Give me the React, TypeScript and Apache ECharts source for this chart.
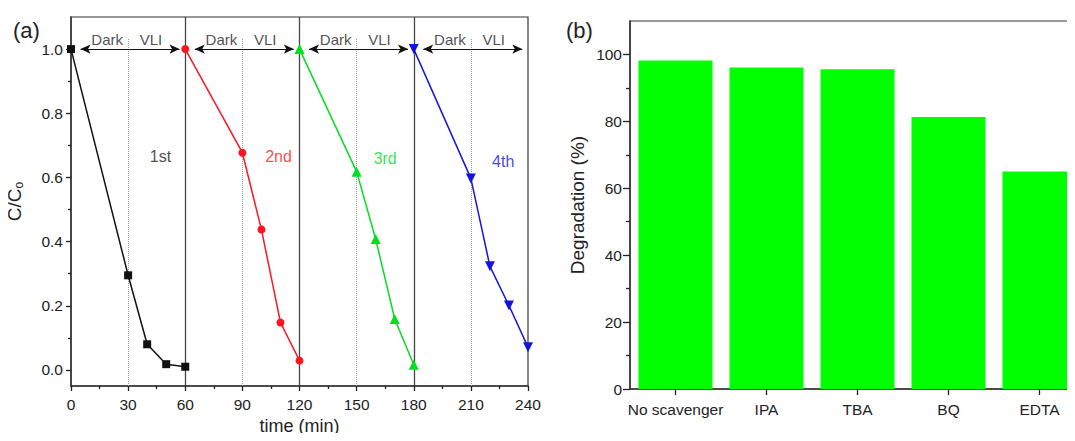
import React, { useEffect, useRef } from "react";
import * as echarts from "echarts";

// ---------- Panel (a) data ----------
const run1X = [0, 30, 40, 50, 60];
const run1Y = [1.0, 0.295, 0.08, 0.018, 0.01];
const run2X = [60, 90, 100, 110, 120];
const run2Y = [1.0, 0.677, 0.438, 0.148, 0.029];
const run3X = [120, 150, 160, 170, 180];
const run3Y = [1.0, 0.618, 0.408, 0.159, 0.016];
const run4X = [180, 210, 220, 230, 240];
const run4Y = [1.0, 0.597, 0.323, 0.201, 0.071];
const runNames = ["1st", "2nd", "3rd", "4th"];
const runLabelX = [47, 109, 165, 227];
const runLabelY = [0.666, 0.666, 0.66, 0.65];
const cycleStarts = [0, 60, 120, 180];
const cycleBoundaries = [60, 120, 180];
const lightOnTimes = [30, 90, 150, 210];
const phaseNames = ["Dark", "VLI"];
const ratioTicks = [0, 0.2, 0.4, 0.6, 0.8, 1.0];
const ratioMinorTicks = [0.1, 0.3, 0.5, 0.7, 0.9];

// ---------- Panel (b) data ----------
const scavengers = ["No scavenger", "IPA", "TBA", "BQ", "EDTA"];
const degradation = [98.2, 96.1, 95.6, 81.3, 65.0];
const degTicks = [0, 20, 40, 60, 80, 100];
const degMinorTicks = [10, 30, 50, 70, 90];

const FONT = "'Liberation Sans', Arial, sans-serif";
const AXIS = "#333333";
const TXT = "#222222";
const colors = ["#111111", "#ff1420", "#00dd22", "#1414dd"];
const symbols = ["rect", "circle", "triangle", "triangle"];
const symbolRot = [0, 0, 0, 180];
const tickStyle = { color: "#222", width: 1.3 };

function tickAxis(gridIndex: number, min: number, max: number, values: number[], length: number) {
  return {
    type: "value",
    gridIndex,
    min,
    max,
    position: "left",
    axisLine: { show: false, onZero: false },
    axisTick: { show: true, inside: false, length, lineStyle: tickStyle, customValues: values },
    axisLabel: { show: false },
    splitLine: { show: false },
  };
}

export default function App() {
  const ref = useRef<HTMLDivElement>(null);

  useEffect(() => {
    if (!ref.current) return;
    const chart = echarts.init(ref.current, null, { renderer: "svg" });

    const runsX = [run1X, run2X, run3X, run4X];
    const runsY = [run1Y, run2Y, run3Y, run4Y];

    const lineSeries = runsX.map((xs, i) => ({
      type: "line",
      xAxisIndex: 0,
      yAxisIndex: 0,
      data: xs.map((x, j) => [x, runsY[i][j]]),
      symbol: symbols[i],
      symbolRotate: symbolRot[i],
      symbolSize: i >= 2 ? 10 : 8,
      showAllSymbol: true,
      itemStyle: { color: colors[i] },
      lineStyle: { color: colors[i], width: 1.5 },
      z: 5,
      markLine:
        i === 0
          ? {
              silent: true,
              symbol: "none",
              label: { show: false },
              data: [
                ...cycleBoundaries.map((v) => ({
                  xAxis: v,
                  lineStyle: { color: "#444", width: 1.3, type: "solid" },
                })),
                ...lightOnTimes.map((v) => [
                  { coord: [v, -0.05], lineStyle: { color: "#9a9a9a", width: 1, type: "dotted" } },
                  { coord: [v, 1.035] },
                ]),
              ],
            }
          : undefined,
    }));

    const arrowSeries = {
      type: "line",
      xAxisIndex: 0,
      yAxisIndex: 0,
      data: [],
      markLine: {
        silent: true,
        symbol: ["arrow", "arrow"],
        symbolSize: [7, 10],
        label: { show: false },
        lineStyle: { color: "#111", width: 1, type: "solid" },
        data: cycleStarts.map((s) => [{ coord: [s + 5, 1.0] }, { coord: [s + 57, 1.0] }]),
      },
    };

    const phaseText = {
      type: "scatter",
      xAxisIndex: 0,
      yAxisIndex: 0,
      symbolSize: 0,
      silent: true,
      label: {
        show: true,
        position: "inside",
        formatter: (p: any) => p.name,
        fontFamily: FONT,
        fontSize: 15,
        color: TXT,
      },
      data: cycleStarts.flatMap((s) => [
        { name: phaseNames[0], value: [s + 19, 1.03] },
        { name: phaseNames[1], value: [s + 42, 1.03] },
      ]),
    };

    const runText = {
      type: "scatter",
      xAxisIndex: 0,
      yAxisIndex: 0,
      symbolSize: 0,
      silent: true,
      data: runNames.map((n, i) => ({
        name: n,
        value: [runLabelX[i], runLabelY[i]],
        label: {
          show: true,
          position: "inside",
          formatter: n,
          fontFamily: FONT,
          fontSize: 16,
          color: i === 0 ? TXT : colors[i],
        },
      })),
    };

    const option: any = {
      animation: false,
      backgroundColor: "#ffffff",
      textStyle: { fontFamily: FONT },
      graphic: [
        { type: "text", left: 13, top: 19, style: { text: "(a)", font: `22px ${FONT}`, fill: TXT } },
        { type: "text", left: 566, top: 19, style: { text: "(b)", font: `22px ${FONT}`, fill: TXT } },
      ],
      grid: [
        {
          left: 71, top: 17, width: 457, height: 369,
          outerBoundsMode: "none", containLabel: false,
          show: true, borderColor: AXIS, borderWidth: 1.2, backgroundColor: "transparent",
        },
        {
          left: 630, top: 21, width: 455, height: 368,
          outerBoundsMode: "none", containLabel: false,
          show: true, borderColor: AXIS, borderWidth: 1.2, backgroundColor: "transparent",
        },
      ],
      xAxis: [
        {
          type: "value",
          gridIndex: 0,
          min: 0,
          max: 240,
          interval: 30,
          name: "time (min)",
          nameLocation: "middle",
          nameGap: 30,
          nameTextStyle: { fontFamily: FONT, fontSize: 18, color: TXT },
          axisLine: { show: true, onZero: false, lineStyle: { color: AXIS, width: 1.5 } },
          axisTick: { show: true, inside: false, length: 5, lineStyle: tickStyle },
          minorTick: { show: true, splitNumber: 2, length: 3, lineStyle: tickStyle },
          axisLabel: { fontFamily: FONT, fontSize: 15.5, color: TXT, margin: 10 },
          splitLine: { show: false },
        },
        {
          type: "category",
          gridIndex: 1,
          data: scavengers,
          axisLine: { show: true, onZero: false, lineStyle: { color: AXIS, width: 1.5 } },
          axisTick: { show: true, inside: false, alignWithLabel: true, interval: 0, length: 6, lineStyle: tickStyle },
          axisLabel: { fontFamily: FONT, fontSize: 15.5, color: TXT, margin: 12, interval: 0 },
          splitLine: { show: false },
        },
      ],
      yAxis: [
        {
          type: "value",
          gridIndex: 0,
          min: -0.05,
          max: 1.1,
          position: "left",
          name: "{a|C/C}{s|o}",
          nameLocation: "middle",
          nameGap: 46,
          nameRotate: 90,
          nameTextStyle: {
            rich: {
              a: { fontFamily: FONT, fontSize: 19, color: TXT },
              s: { fontFamily: FONT, fontSize: 12, color: TXT, verticalAlign: "bottom", padding: [9, 0, 0, 0] },
            },
          },
          axisLine: { show: true, onZero: false, lineStyle: { color: AXIS, width: 1.5 } },
          axisTick: { show: false },
          axisLabel: {
            fontFamily: FONT,
            fontSize: 15.5,
            color: TXT,
            margin: 8,
            customValues: ratioTicks,
            formatter: (v: number) => v.toFixed(1),
          },
          splitLine: { show: false },
        },
        tickAxis(0, -0.05, 1.1, ratioTicks, 5),
        tickAxis(0, -0.05, 1.1, ratioMinorTicks, 3),
        {
          type: "value",
          gridIndex: 1,
          min: 0,
          max: 110,
          position: "left",
          name: "Degradation (%)",
          nameLocation: "middle",
          nameGap: 43,
          nameRotate: 90,
          nameTextStyle: { fontFamily: FONT, fontSize: 19, color: TXT },
          axisLine: { show: true, onZero: false, lineStyle: { color: AXIS, width: 1.5 } },
          axisTick: { show: false },
          axisLabel: { fontFamily: FONT, fontSize: 15.5, color: TXT, margin: 8, customValues: degTicks },
          splitLine: { show: false },
        },
        tickAxis(1, 0, 110, degTicks, 7),
        tickAxis(1, 0, 110, degMinorTicks, 4),
      ],
      series: [
        ...lineSeries,
        arrowSeries,
        phaseText,
        runText,
        {
          type: "bar",
          xAxisIndex: 1,
          yAxisIndex: 3,
          data: degradation,
          barWidth: 74,
          itemStyle: { color: "#00ff00" },
        },
      ],
    };

    chart.setOption(option);
    return () => chart.dispose();
  }, []);

  return (
    <div style={{ width: 1075, height: 441, margin: -8, overflow: "hidden", position: "relative" }}>
      <div ref={ref} style={{ width: 1110, height: 441 }} />
    </div>
  );
}
